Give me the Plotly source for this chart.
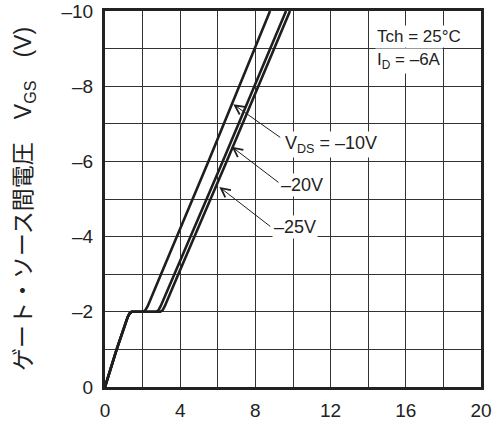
import plotly.graph_objects as go

# ---- data ----
qg_10 = [0, 0.62, 1.2, 1.3, 1.42, 2.02, 2.14, 2.27, 2.98, 5.50, 8.78]
vgs_10 = [0, -1.0, -1.85, -1.95, -2.0, -2.0, -2.04, -2.15, -3, -6, -10]

qg_20 = [0, 0.62, 1.2, 1.3, 1.42, 2.72, 2.84, 2.96, 3.69, 6.26, 9.63]
vgs_20 = [0, -1.0, -1.85, -1.95, -2.0, -2.0, -2.04, -2.15, -3, -6, -10]

qg_25 = [0, 0.62, 1.2, 1.3, 1.42, 2.94, 3.06, 3.18, 3.90, 6.47, 9.84]
vgs_25 = [0, -1.0, -1.85, -1.95, -2.0, -2.0, -2.04, -2.15, -3, -6, -10]

x_tickvals = [0, 4, 8, 12, 16, 20]
x_ticktext = ["0", "4", "8", "12", "16", "20"]
x_minor = [2, 6, 10, 14, 18]
y_tickvals = [0, -2, -4, -6, -8, -10]
y_ticktext = ["0", "–2", "–4", "–6", "–8", "–10"]
y_minor = [-1, -3, -5, -7, -9]

FONT = "Liberation Sans, Arial, Noto Sans CJK JP, sans-serif"
INK = "#1e1e1e"
GRID = "#333"

fig = go.Figure()
for xs, ys in [(qg_10, vgs_10), (qg_20, vgs_20), (qg_25, vgs_25)]:
    fig.add_trace(go.Scatter(x=xs, y=ys, mode="lines",
                             line=dict(color=INK, width=2.6),
                             showlegend=False, hoverinfo="skip"))

axis_common = dict(
    showline=True, linewidth=3, linecolor="#222", mirror=True,
    showgrid=True, gridcolor=GRID, gridwidth=1.2,
    zeroline=False, ticks="", automargin=False, ticklabeloverflow="allow",
    tickfont=dict(family=FONT, size=19, color="#222"),
)

fig.update_xaxes(range=[0, 20], tickmode="array", tickvals=x_tickvals,
                 ticktext=x_ticktext, ticklabelstandoff=4,
                 minor=dict(tickmode="array", tickvals=x_minor, showgrid=True,
                            gridcolor=GRID, gridwidth=1.2, ticks=""),
                 **axis_common)
fig.update_yaxes(range=[0, -10], tickmode="array", tickvals=y_tickvals,
                 ticktext=y_ticktext, ticklabelstandoff=5,
                 minor=dict(tickmode="array", tickvals=y_minor, showgrid=True,
                            gridcolor=GRID, gridwidth=1.2, ticks=""),
                 title=dict(text="ゲート・ソース間電圧　V<sub>GS</sub>　(V)",
                            font=dict(family=FONT, size=23, color="#222"),
                            standoff=24),
                 **axis_common)

# leader lines (arrow tip on curve, tail at label)
leaders = [((6.82, -7.52), (9.40, -6.61)),
           ((6.74, -6.39), (9.31, -5.41)),
           ((6.08, -5.32), (8.87, -4.24))]
for (tx, ty), (ax_, ay_) in leaders:
    fig.add_annotation(x=tx, y=ty, ax=ax_, ay=ay_, xref="x", yref="y",
                       axref="x", ayref="y", text="", showarrow=True,
                       arrowhead=5, arrowsize=1.8, arrowwidth=1,
                       arrowcolor=INK, standoff=0, startstandoff=0)

labels = [("V<sub>DS</sub> = –10V", 12.02, -6.45),
          ("–20V", 10.48, -5.37),
          ("–25V", 10.09, -4.26)]
for txt, lx, ly in labels:
    fig.add_annotation(x=lx, y=ly, xref="x", yref="y", text=txt,
                       showarrow=False, xanchor="center", yanchor="middle",
                       bgcolor="white", borderpad=1,
                       font=dict(family=FONT, size=18, color="#222"))

fig.add_annotation(x=14.35, y=-9.31, xref="x", yref="y", text="Tch = 25°C",
                   showarrow=False, xanchor="left", yanchor="middle",
                   bgcolor="white", borderpad=1,
                   font=dict(family=FONT, size=17, color="#222"))
fig.add_annotation(x=14.35, y=-8.68, xref="x", yref="y", text="I<sub>D</sub> = –6A",
                   showarrow=False, xanchor="left", yanchor="middle",
                   bgcolor="white", borderpad=1,
                   font=dict(family=FONT, size=17, color="#222"))

fig.update_layout(width=499, height=421, autosize=False,
                  margin=dict(l=105, r=18, t=11, b=34),
                  paper_bgcolor="white", plot_bgcolor="white",
                  font=dict(family=FONT))

# remove the browser's default 8px body margin so the figure fills the window
fig.write_html("out.html",
               config={"displayModeBar": False},
               post_script="document.body.style.margin='0';")
